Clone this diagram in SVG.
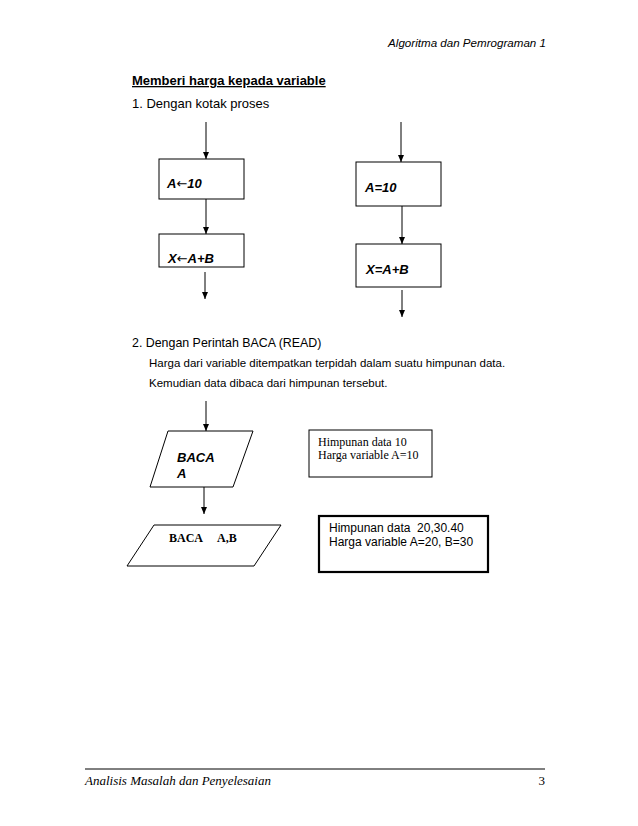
<svg xmlns="http://www.w3.org/2000/svg" width="638" height="826" viewBox="0 0 638 826">
<style>
.sans{font-family:"Liberation Sans",Arial,sans-serif;fill:#000}
.serif{font-family:"Liberation Serif","Times New Roman",serif;fill:#000}
.box{fill:#fff;stroke:#000;stroke-width:1}
.ln{stroke:#000;stroke-width:1;fill:none}
.lbl{font-family:"Liberation Sans",Arial,sans-serif;font-weight:bold;font-style:italic;font-size:13px;fill:#000}
.arr{font-family:"DejaVu Sans",sans-serif;font-weight:normal;font-style:normal}
</style>
<defs>
<marker id="ah" markerWidth="7" markerHeight="6" refX="7" refY="3" orient="auto" markerUnits="userSpaceOnUse" viewBox="0 0 7 6">
<path d="M0,0 L7,3 L0,6 Z" fill="#000"/>
</marker>
</defs>
<rect width="638" height="826" fill="#fff"/>
<text class="sans" x="546" y="47" font-size="11.6" font-style="italic" text-anchor="end">Algoritma dan Pemrograman 1</text>
<text class="sans" x="132" y="85" font-size="13" font-weight="bold" text-decoration="underline">Memberi harga kepada variable</text>
<text class="sans" x="132" y="108" font-size="13">1.  Dengan kotak proses</text>
<text class="sans" x="132" y="347" font-size="12.4">2. Dengan Perintah BACA (READ)</text>
<text class="sans" x="149" y="367" font-size="11.5">Harga dari variable ditempatkan terpidah dalam suatu himpunan data.</text>
<text class="sans" x="149" y="387" font-size="11.5">Kemudian data dibaca dari himpunan tersebut.</text>
<g id="connectors">
<line class="ln" x1="206" y1="122" x2="206" y2="159" marker-end="url(#ah)"/>
<line class="ln" x1="206" y1="199" x2="206" y2="234" marker-end="url(#ah)"/>
<line class="ln" x1="205" y1="272" x2="205" y2="299" marker-end="url(#ah)"/>
<line class="ln" x1="401" y1="122" x2="401" y2="162" marker-end="url(#ah)"/>
<line class="ln" x1="402" y1="206" x2="402" y2="244" marker-end="url(#ah)"/>
<line class="ln" x1="402" y1="290" x2="402" y2="317" marker-end="url(#ah)"/>
<line class="ln" x1="206" y1="401" x2="206" y2="431" marker-end="url(#ah)"/>
<line class="ln" x1="204" y1="487" x2="204" y2="514" marker-end="url(#ah)"/>
</g>
<g id="n1"><rect class="box" x="159" y="159" width="85" height="40"/><text class="lbl" x="167" y="188">A<tspan class="arr">←</tspan>10</text></g>
<g id="n2"><rect class="box" x="159" y="234" width="85" height="33"/><text class="lbl" x="168" y="263">X<tspan class="arr">←</tspan>A+B</text></g>
<g id="n3"><rect class="box" x="356" y="162" width="85" height="44"/><text class="lbl" x="365" y="192">A=10</text></g>
<g id="n4"><rect class="box" x="356" y="244" width="85" height="43"/><text class="lbl" x="366" y="274">X=A+B</text></g>
<g id="n5"><polygon class="box" points="168,431 253,431 233,487 150,487"/><text class="lbl" x="177" y="462">BACA</text><text class="lbl" x="177" y="478">A</text></g>
<g id="n6"><polygon class="box" points="154,525 281,525 254,566 127,566"/><text class="serif" y="542" font-size="12" font-weight="bold"><tspan x="169">BACA</tspan><tspan x="217">A,B</tspan></text></g>
<g id="n7"><rect class="box" x="309" y="430" width="123" height="47"/><text class="serif" x="318" y="446" font-size="12">Himpunan data 10</text><text class="serif" x="318" y="459" font-size="12">Harga variable A=10</text></g>
<g id="n8"><rect x="319" y="516" width="169" height="56" style="fill:#fff;stroke:#000;stroke-width:2.2"/><text class="sans" x="329" y="532" font-size="12" xml:space="preserve">Himpunan data  20,30.40</text><text class="sans" x="329" y="546" font-size="12">Harga variable A=20, B=30</text></g>
<line x1="85" y1="769" x2="545" y2="769" stroke="#000" stroke-width="1"/>
<text class="serif" x="85" y="785" font-size="13" font-style="italic">Analisis Masalah dan Penyelesaian</text>
<text class="serif" x="545" y="785" font-size="13" text-anchor="end">3</text>
</svg>
